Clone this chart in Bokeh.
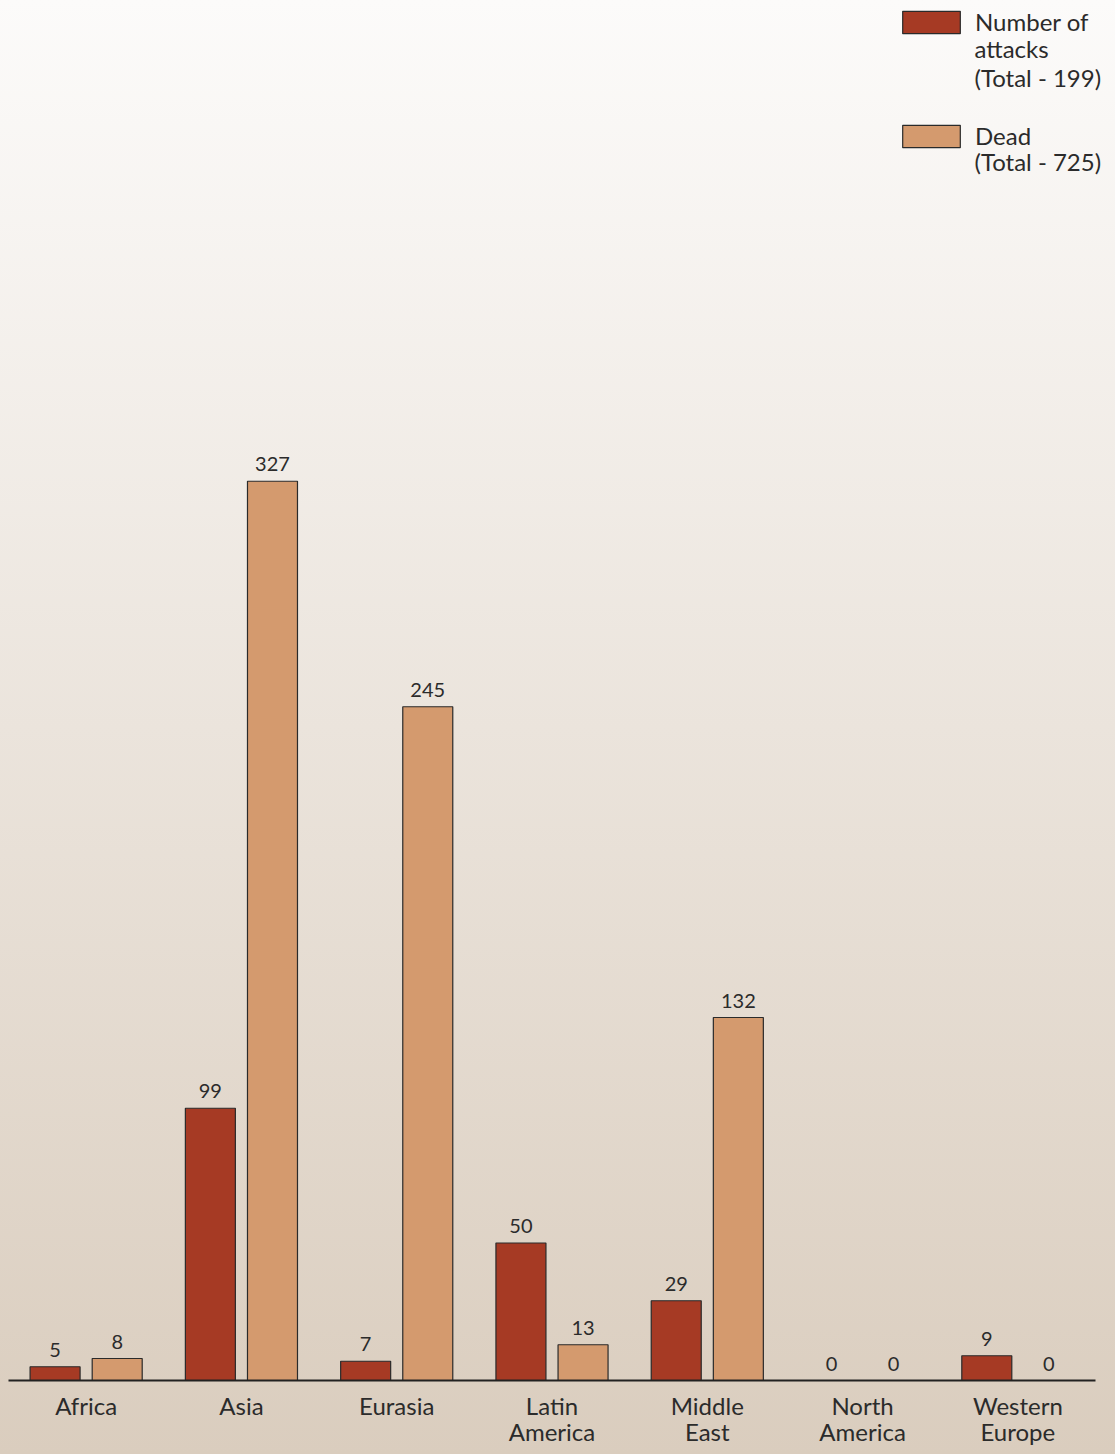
from bokeh.plotting import figure
from bokeh.models import ColumnDataSource, Range1d, Legend, LegendItem, Label, FixedTicker
from bokeh.transform import dodge
from bokeh.core.properties import value
from bokeh.embed import file_html
from bokeh.resources import INLINE

regions = ["Africa", "Asia", "Eurasia", "Latin\nAmerica", "Middle\nEast", "North\nAmerica", "Western\nEurope"]
attacks = [5, 99, 7, 50, 29, 0, 9]
dead = [8, 327, 245, 13, 132, 0, 0]
attacks_label = ["Number of", "attacks", "(Total - 199)"]
dead_label = ["Dead", "(Total - 725)"]

FONT = "Lato"
TXT = "#2b2b2b"
RED = "#a63a24"
TAN = "#d49a6e"

n = len(regions)
pos = [i + 0.5 for i in range(n)]

src = ColumnDataSource(dict(
    pos=pos,
    attacks=attacks,
    dead=dead,
    attacks_txt=[str(v) for v in attacks],
    dead_txt=[str(v) for v in dead],
))

FW, FH = 1099, 1372
p = figure(
    x_range=Range1d(0, n * FW / 1087),
    y_range=Range1d(0, FH / 2.75),
    frame_width=FW, frame_height=FH,
    output_backend="svg", toolbar_location=None,
    min_border_left=8, min_border_right=8, min_border_top=8, min_border_bottom=74,
)
p.styles = {"background": "linear-gradient(to bottom, #fcfbfa 0%, #dacdbe 100%)"}
p.background_fill_color = None
p.border_fill_color = None
p.outline_line_color = None
p.grid.visible = False
p.yaxis.visible = False

xa = p.xaxis[0]
xa.bounds = (0, n)
xa.ticker = FixedTicker(ticks=pos)
xa.major_label_overrides = {x: lab for x, lab in zip(pos, regions)}
xa.axis_line_color = "#222222"
xa.axis_line_width = 2
xa.major_tick_line_color = None
xa.minor_tick_line_color = None
xa.major_label_text_font = FONT
xa.major_label_text_font_size = "24px"
xa.major_label_text_color = TXT
xa.major_label_text_line_height = 0.92
xa.major_label_standoff = 4

r1 = p.vbar(x=dodge("pos", -0.2), top="attacks", width=0.322, source=src,
            fill_color=RED, line_color="#2a2a2a", line_width=1.2)
r2 = p.vbar(x=dodge("pos", 0.2), top="dead", width=0.322, source=src,
            fill_color=TAN, line_color="#2a2a2a", line_width=1.2)

for off, col, txt in [(-0.2, "attacks", "attacks_txt"), (0.2, "dead", "dead_txt")]:
    p.text(x=dodge("pos", off), y=col, text=txt, source=src,
           text_font=value(FONT), text_font_size="20px", text_color=TXT,
           text_align="center", text_baseline="alphabetic", y_offset=-17)

legend = Legend(items=[LegendItem(label=attacks_label[0], renderers=[r1]),
                       LegendItem(label=dead_label[0], renderers=[r2])],
                location=(887, FH - 142), orientation="vertical")
legend.padding = 0
legend.margin = 0
legend.spacing = 85
legend.border_line_color = None
legend.background_fill_alpha = 0
legend.glyph_width = 72
legend.glyph_height = 28
legend.label_standoff = 8
legend.label_text_font = FONT
legend.label_text_font_size = "24px"
legend.label_text_color = TXT
p.add_layout(legend)

for lines, top in [(attacks_label[1:], 33), (dead_label[1:], 146)]:
    p.add_layout(Label(x=966, y=FH + 8 - top, x_units="screen", y_units="screen",
                       text="\n".join(lines), text_font=FONT, text_font_size="24px",
                       text_color=TXT, text_baseline="top", text_align="left",
                       text_line_height=1.0))

open("out.html", "w").write(file_html(p, INLINE))
